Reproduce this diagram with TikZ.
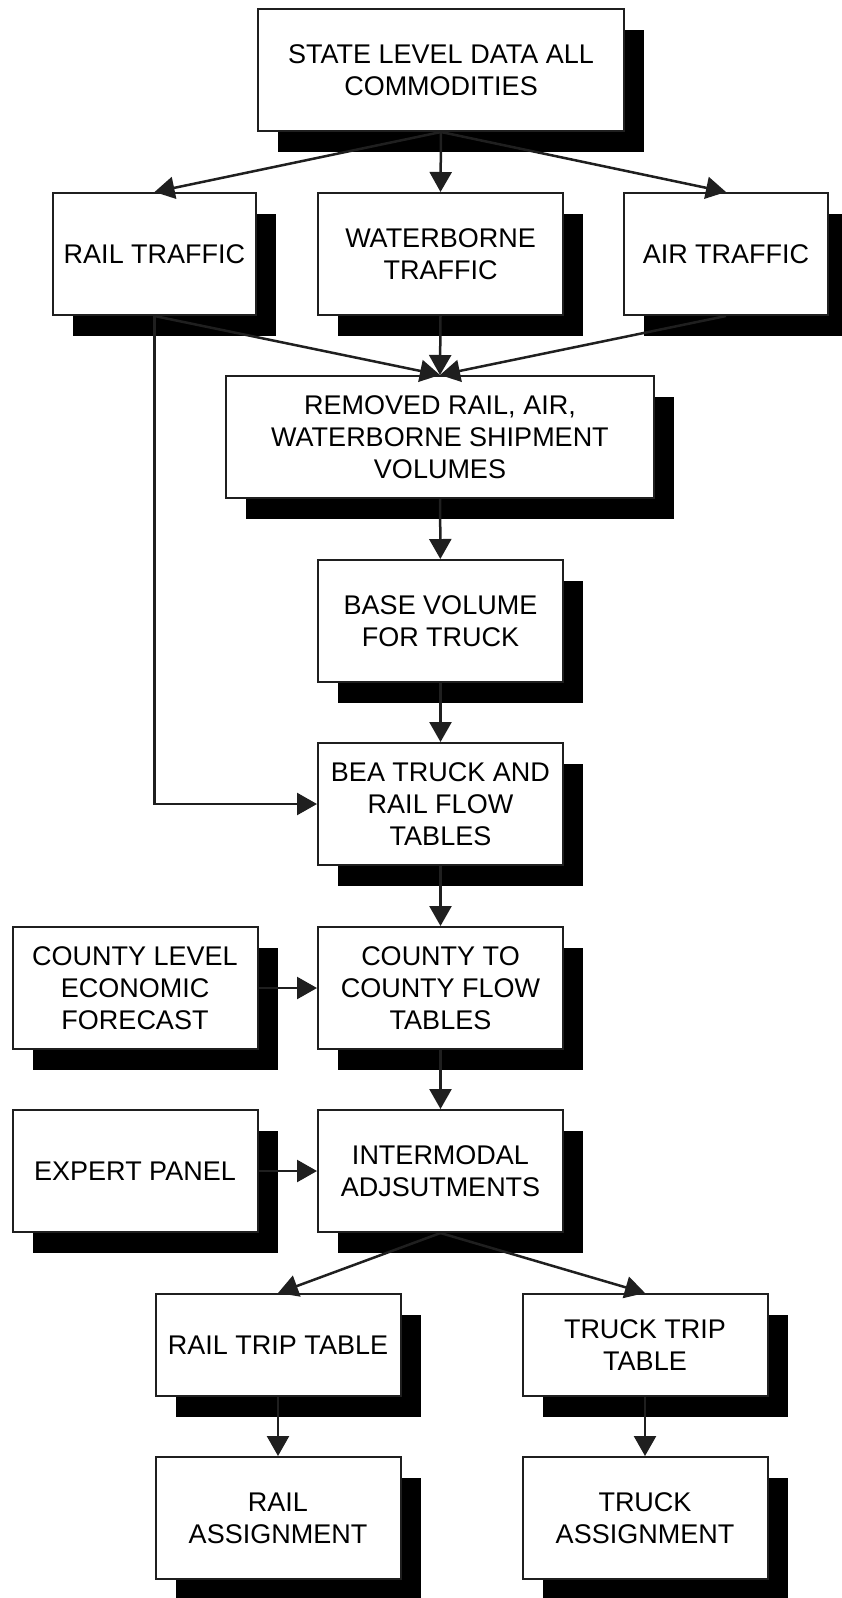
\documentclass[tikz,border=0pt]{standalone}
\usepackage{fontspec}
\setmainfont{Liberation Sans}
\usepackage{tikz}
\usetikzlibrary{arrows.meta}
\usetikzlibrary{shadows}

\begin{document}
\begin{tikzpicture}[x=1pt, y=1pt,
  box/.style = {draw=black!88, fill=white, line width=2pt, inner sep=0pt, align=center,
    minimum width=245pt, minimum height=122pt, font=\fontsize{27}{32}\selectfont,
    drop shadow={shadow xshift=20pt, shadow yshift=-21pt, opacity=1, fill=black}},
  link/.style = {draw=black!88, line width=2.5pt, -{Triangle[length=20pt, width=22pt]}}]
\useasboundingbox (0,0) rectangle (841,-1598);

\node[box, minimum width=366pt] (state) at (441,-70) {STATE LEVEL DATA ALL\\COMMODITIES};

\node[box, minimum width=203pt] (rail) at (154.5,-254) {RAIL TRAFFIC};
\node[box] (water) at (440.5,-254) {WATERBORNE\\TRAFFIC};
\node[box, minimum width=204pt] (air) at (726,-254) {AIR TRAFFIC};

\node[box, minimum width=428pt] (removed) at (440,-437) {REMOVED RAIL, AIR,\\WATERBORNE SHIPMENT\\VOLUMES};
\node[box] (base) at (440.5,-621) {BASE VOLUME\\FOR TRUCK};
\node[box] (bea) at (440.5,-804) {BEA TRUCK AND\\RAIL FLOW\\TABLES};

\node[box] (forecast) at (135,-988) {COUNTY LEVEL\\ECONOMIC\\FORECAST};
\node[box] (county) at (440.5,-988) {COUNTY TO\\COUNTY FLOW\\TABLES};
\node[box] (expert) at (135,-1171) {EXPERT PANEL};
\node[box] (intermodal) at (440.5,-1171) {INTERMODAL\\ADJSUTMENTS};

\node[box, minimum height=102pt] (railtrip) at (278,-1345) {RAIL TRIP TABLE};
\node[box, minimum height=102pt] (trucktrip) at (645,-1345) {TRUCK TRIP\\TABLE};
\node[box] (railasg) at (278,-1518) {RAIL\\ASSIGNMENT};
\node[box] (truckasg) at (645,-1518) {TRUCK\\ASSIGNMENT};

% connectors
\foreach \to in {rail, water, air} {
	\draw[link] (state.south) -- (\to.north);
	\draw[link] (\to.south) -- (removed.north);
}
\draw[link] (removed) -- (base);
\draw[link] (base) -- (bea);
\draw[link] (rail.south) |- (bea.west);
\draw[link] (bea) -- (county);
\draw[link] (county) -- (intermodal);
\draw[link] (forecast) -- (county);
\draw[link] (expert) -- (intermodal);
\draw[link] (intermodal.south) -- (railtrip.north);
\draw[link] (intermodal.south) -- (trucktrip.north);
\draw[link] (railtrip) -- (railasg);
\draw[link] (trucktrip) -- (truckasg);
\end{tikzpicture}
\end{document}
